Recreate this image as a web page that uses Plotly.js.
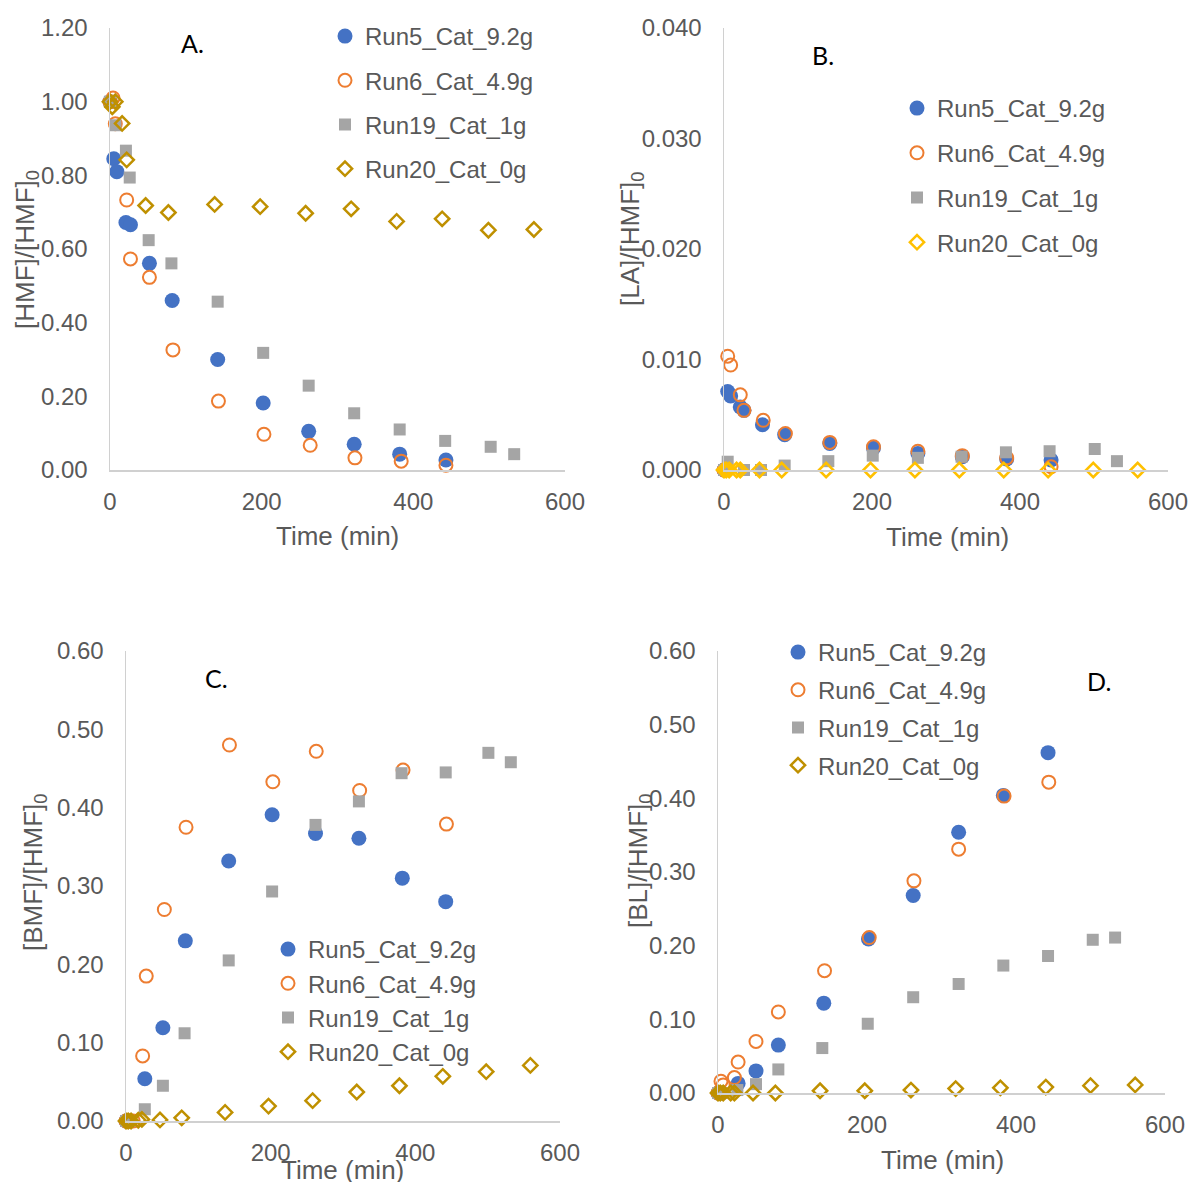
<!DOCTYPE html>
<html>
<head>
<meta charset="utf-8">
<script src="https://cdn.plot.ly/plotly-3.0.1.min.js"></script>
<style>html,body{margin:0;padding:0;background:#fff}#chart{width:1190px;height:1182px}</style>
</head>
<body>
<div id="chart"></div>
<script>
// ---------- DATA ----------
const seriesNames = ["Run5_Cat_9.2g", "Run6_Cat_4.9g", "Run19_Cat_1g", "Run20_Cat_0g"];
const xTicks = [0, 200, 400, 600];

// Panel A: [HMF]/[HMF]0
const tA5 = [0, 5, 9, 21, 27, 52, 82, 142, 202, 262, 322, 382, 443];
const yA5 = [1.00, 0.845, 0.810, 0.672, 0.666, 0.561, 0.460, 0.300, 0.182, 0.105, 0.070, 0.043, 0.027];
const tA6 = [0, 4, 7, 22, 27, 52, 83, 143, 203, 264, 323, 384, 443];
const yA6 = [1.00, 1.010, 0.940, 0.733, 0.573, 0.523, 0.326, 0.187, 0.097, 0.067, 0.033, 0.024, 0.013];
const tA19 = [0, 7, 21, 26, 51, 81, 142, 202, 262, 322, 382, 442, 502, 533];
const yA19 = [1.00, 0.936, 0.867, 0.794, 0.624, 0.561, 0.457, 0.318, 0.229, 0.154, 0.110, 0.079, 0.063, 0.043];
const tA20 = [0, 3, 7, 16, 22, 47, 77, 138, 198, 258, 318, 378, 438, 499, 559];
const yA20 = [1.00, 0.986, 1.00, 0.941, 0.842, 0.718, 0.699, 0.721, 0.715, 0.697, 0.709, 0.675, 0.682, 0.651, 0.653];

// Panel B: [LA]/[HMF]0
const tB5 = [0, 5, 9, 22, 27, 52, 82, 143, 202, 262, 322, 382, 442];
const yB5 = [0, 0.0071, 0.0067, 0.0057, 0.0054, 0.0041, 0.0032, 0.0024, 0.0020, 0.0015, 0.0012, 0.0010, 0.0009];
const tB6 = [0, 5, 9, 22, 27, 53, 83, 143, 202, 262, 322, 382, 442];
const yB6 = [0, 0.0103, 0.0095, 0.0068, 0.0054, 0.0045, 0.0033, 0.0025, 0.0021, 0.0017, 0.0013, 0.0011, 0.0003];
const tB19 = [0, 5, 27, 50, 82, 141, 201, 262, 321, 381, 440, 501, 531];
const yB19 = [0, 0.00075, 0, 0, 0.0004, 0.0008, 0.0013, 0.0011, 0.0012, 0.0016, 0.0017, 0.0019, 0.0008];
const tB20 = [0, 3, 7, 17, 22, 48, 78, 138, 198, 258, 318, 378, 438, 499, 559];
const yB20 = [0, 0, 0, 0, 0, 0, 0, 0, 0, 0, 0, 0, 0, 0, 0];

// Panel C: [BMF]/[HMF]0
const tC5 = [0, 5, 26, 51, 82, 142, 202, 262, 322, 382, 442];
const yC5 = [0, 0, 0.054, 0.119, 0.230, 0.332, 0.391, 0.367, 0.361, 0.310, 0.280];
const tC6 = [0, 5, 10, 23, 28, 53, 83, 143, 203, 263, 323, 383, 443];
const yC6 = [0, 0, 0, 0.083, 0.185, 0.270, 0.375, 0.480, 0.433, 0.472, 0.422, 0.448, 0.379];
const tC19 = [0, 5, 26, 51, 81, 142, 202, 262, 322, 381, 442, 501, 532];
const yC19 = [0, 0, 0.015, 0.045, 0.112, 0.205, 0.293, 0.378, 0.408, 0.444, 0.445, 0.470, 0.458];
const tC20 = [0, 3, 7, 17, 22, 47, 77, 137, 197, 258, 319, 378, 438, 498, 559];
const yC20 = [0, 0, 0, 0.001, 0.002, 0.0014, 0.0040, 0.011, 0.019, 0.026, 0.037, 0.045, 0.057, 0.063, 0.071];

// Panel D: [BL]/[HMF]0
const tD5 = [0, 5, 27, 51, 81, 142, 202, 262, 323, 383, 443];
const yD5 = [0, 0, 0.013, 0.030, 0.065, 0.122, 0.209, 0.268, 0.354, 0.404, 0.462];
const tD6 = [0, 4, 7, 22, 27, 51, 81, 143, 203, 263, 323, 384, 444];
const yD6 = [0, 0.016, 0.011, 0.021, 0.042, 0.070, 0.110, 0.166, 0.211, 0.288, 0.331, 0.403, 0.422];
const tD19 = [0, 5, 26, 51, 81, 140, 201, 262, 323, 383, 443, 503, 533];
const yD19 = [0, 0, 0.004, 0.012, 0.032, 0.061, 0.094, 0.130, 0.148, 0.173, 0.186, 0.208, 0.211];
const tD20 = [0, 3, 7, 17, 22, 47, 77, 137, 197, 259, 319, 379, 440, 500, 560];
const yD20 = [0, 0, 0, 0, 0, 0, 0, 0.003, 0.003, 0.004, 0.006, 0.007, 0.008, 0.010, 0.011];

// ---------- STYLE ----------
const W = 1190, H = 1182;
const FONT = "Liberation Sans, Arial, sans-serif";
const GREY_TXT = "#595959";
const COLORS = ["#4472C4", "#ED7D31", "#A5A5A5", "#BF9000"];
const px = v => v / W;          // x pixel -> paper
const py = v => 1 - v / H;      // y pixel -> paper

function markerStyle(i, diamondColor) {
  if (i === 0) return {symbol: "circle", size: 15, color: COLORS[0]};
  if (i === 1) return {symbol: "circle-open", size: 13, color: COLORS[1], line: {width: 2, color: COLORS[1]}};
  if (i === 2) return {symbol: "square", size: 12, color: COLORS[2]};
  return {symbol: "diamond-open", size: 11, color: diamondColor || COLORS[3], line: {width: 2.5, color: diamondColor || COLORS[3]}};
}

const panels = [
  {id: "A", xa: "x", ya: "y", lg: "legend", data: [[tA5, yA5], [tA6, yA6], [tA19, yA19], [tA20, yA20]], dcol: null},
  {id: "B", xa: "x2", ya: "y2", lg: "legend2", data: [[tB5, yB5], [tB6, yB6], [tB19, yB19], [tB20, yB20]], dcol: "#FFC000"},
  {id: "C", xa: "x3", ya: "y3", lg: "legend3", data: [[tC5, yC5], [tC6, yC6], [tC19, yC19], [tC20, yC20]], dcol: null},
  {id: "D", xa: "x4", ya: "y4", lg: "legend4", data: [[tD5, yD5], [tD6, yD6], [tD19, yD19], [tD20, yD20]], dcol: null}
];

const traces = [];
panels.forEach(p => {
  p.data.forEach((d, i) => {
    traces.push({
      type: "scatter", mode: "markers",
      x: d[0], y: d[1],
      name: seriesNames[i],
      xaxis: p.xa, yaxis: p.ya,
      legend: p.lg, legendgroup: p.id + i,
      marker: markerStyle(i, p.dcol),
      cliponaxis: false,
      hoverinfo: "x+y+name"
    });
  });
});

function xAxis(x0, x1, anchor) {
  return {
    domain: [px(x0), px(x1)], anchor: anchor,
    range: [0, 600], tickvals: xTicks, ticks: "",
    showgrid: false, zeroline: false, showline: true,
    linecolor: "#D0D0D0", linewidth: 1.5,
    tickfont: {family: FONT, size: 24, color: GREY_TXT},
    ticklabelstandoff: 10, ticklabeloverflow: "allow", automargin: false
  };
}
function yAxis(top, bottom, range, dtick, fmt, anchor) {
  return {
    domain: [py(bottom), py(top)], anchor: anchor,
    range: range, dtick: dtick, tick0: 0, tickformat: fmt, ticks: "",
    showgrid: false, zeroline: false, showline: true,
    linecolor: "#D0D0D0", linewidth: 1.5,
    tickfont: {family: FONT, size: 24, color: GREY_TXT},
    ticklabelstandoff: 16, ticklabeloverflow: "allow", automargin: false
  };
}

function legendAt(left, top, gap) {
  return {
    x: px(left), y: py(top), xanchor: "left", yanchor: "top",
    xref: "paper", yref: "paper",
    bgcolor: "rgba(0,0,0,0)", borderwidth: 0,
    font: {family: FONT, size: 24, color: GREY_TXT},
    tracegroupgap: gap, itemsizing: "trace"
  };
}

const titleFont = {family: FONT, size: 26, color: GREY_TXT};
const panelFont = {family: "Lato, Open Sans, sans-serif", size: 25, color: "#000000"};
function ann(text, x, y, font, angle) {
  return {text: text, x: px(x), y: py(y), xref: "paper", yref: "paper",
          xanchor: "center", yanchor: "middle", showarrow: false,
          font: font, textangle: angle || 0};
}

const layout = {
  width: W, height: H,
  margin: {l: 0, r: 0, t: 0, b: 0},
  paper_bgcolor: "#ffffff", plot_bgcolor: "rgba(0,0,0,0)",
  showlegend: true,
  xaxis: xAxis(110, 565, "y"),
  yaxis: yAxis(28, 470, [0, 1.2], 0.2, ".2f", "x"),
  xaxis2: xAxis(724, 1168, "y2"),
  yaxis2: yAxis(28, 470, [0, 0.04], 0.01, ".3f", "x2"),
  xaxis3: xAxis(126, 560, "y3"),
  yaxis3: yAxis(651, 1121, [0, 0.6], 0.1, ".2f", "x3"),
  xaxis4: xAxis(718, 1165, "y4"),
  yaxis4: yAxis(651, 1093, [0, 0.6], 0.1, ".2f", "x4"),
  legend: legendAt(325, 14, 10),
  legend2: legendAt(897, 86, 10.5),
  legend3: legendAt(268, 927, 0),
  legend4: legendAt(778, 630, 3.5),
  annotations: [
    ann("Time (min)", 337, 536, titleFont),
    ann("Time (min)", 948, 537, titleFont),
    ann("Time (min)", 343, 1170, titleFont),
    ann("Time (min)", 942, 1160, titleFont),
    ann("[HMF]/[HMF]<sub>0</sub>", 26, 250, titleFont, -90),
    ann("[LA]/[HMF]<sub>0</sub>", 632, 239, titleFont, -90),
    ann("[BMF]/[HMF]<sub>0</sub>", 34, 873, titleFont, -90),
    ann("[BL]/[HMF]<sub>0</sub>", 639, 861, titleFont, -90),
    ann("A.", 192, 43, panelFont),
    ann("B.", 823, 55, panelFont),
    ann("C.", 216, 678, panelFont),
    ann("D.", 1099, 681, panelFont)
  ]
};

Plotly.newPlot("chart", traces, layout, {displayModeBar: false, staticPlot: true});
</script>
</body>
</html>
